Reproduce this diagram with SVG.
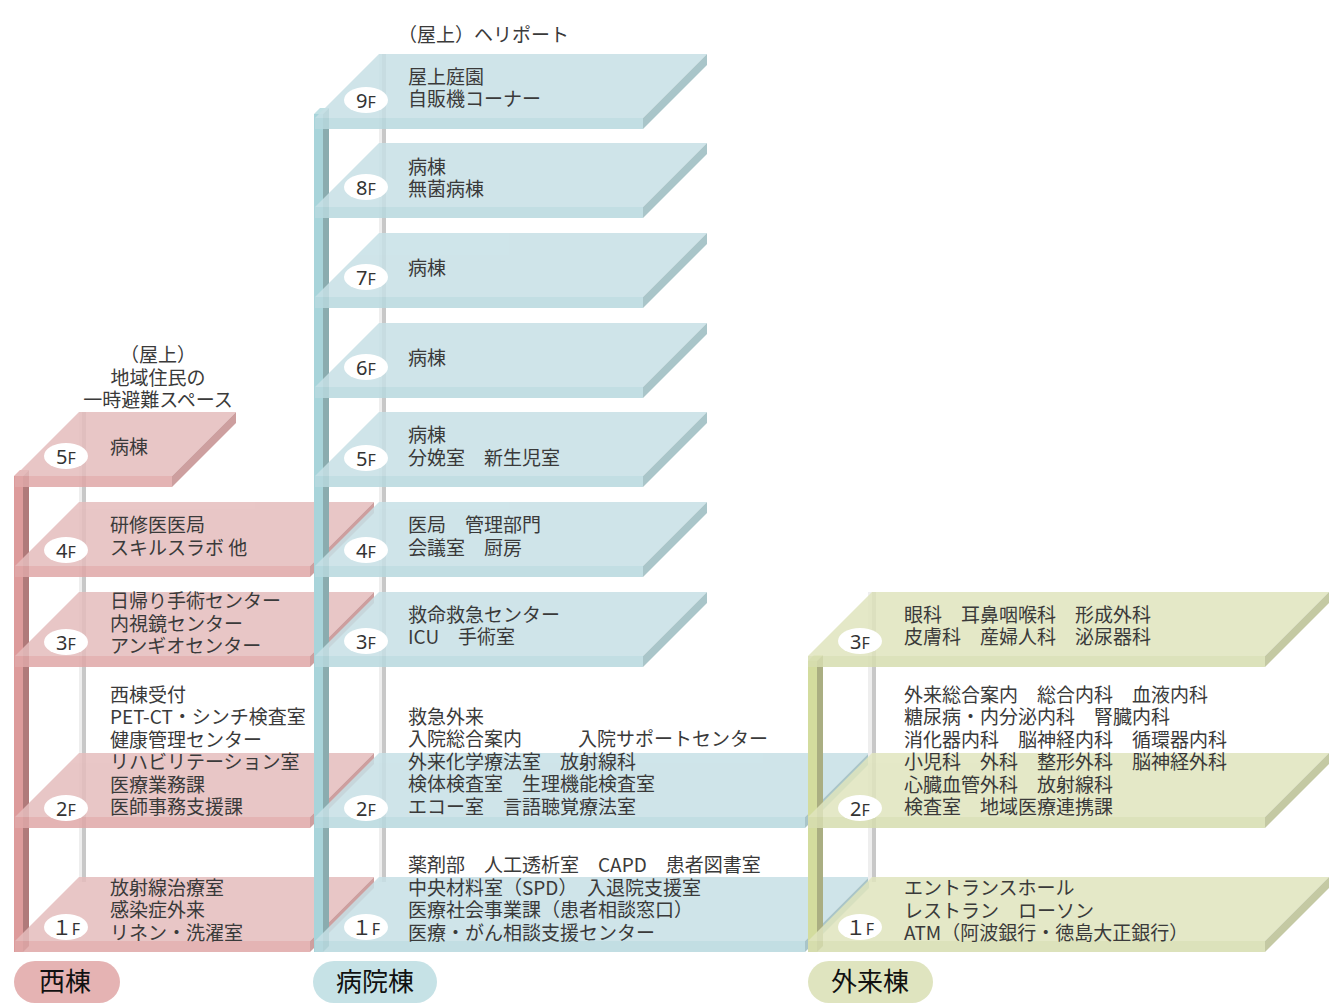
<svg xmlns="http://www.w3.org/2000/svg" width="1344" height="1008" viewBox="0 0 1344 1008">
<style>
.t{font-family:"Noto Sans CJK JP","Liberation Sans",sans-serif;font-size:19px;fill:#3a3a3a}
.c{text-anchor:middle}
.fl{font-family:"Noto Sans","Noto Sans CJK JP",sans-serif;fill:#333;text-anchor:middle}
.fl .n{font-size:20px}
.fl .f{font-size:16px}
.lab{fill:#fff}
.gl{fill:#eeeeee}
.gd{fill:#c8c8c8}
.slab{opacity:.85}
.w .top{fill:#e5bdbd}.w .band{fill:#e0a8a8}.w .side{fill:#c58f8f}
.h .top{fill:#c7e0e6}.h .band{fill:#b8d9df}.h .side{fill:#9bbcc0}
.o .top{fill:#e0e5be}.o .band{fill:#d7deb0}.o .side{fill:#bac093}
.bn{font-family:"Noto Sans CJK JP",sans-serif;font-size:26px;fill:#111;text-anchor:middle}
</style>

<g id="connectors"></g>

<!-- West building -->
<g id="west" class="w">
  <g id="west-poles">
    <rect class="gl" x="79" y="412" width="3" height="470"/>
    <rect class="gd" x="82" y="412" width="4" height="470"/>
    <polygon points="14,476 20,470 29,470 23,476" fill="#e8b4b4"/>
    <rect x="14" y="476" width="9" height="476" fill="#dd9b9b"/>
    <polygon points="23,476 29,470 29,946 23,952" fill="#b07a7a"/>
  </g>
  <text class="t c" x="158" y="362"><tspan x="158">（屋上）</tspan><tspan x="158" dy="22.5">地域住民の</tspan><tspan x="158" dy="22.5">一時避難スペース</tspan></text>
  <g id="west-5F">
    <g class="slab"><polygon class="top" points="15,476 79,412 236,412 172,476"/><rect class="band" x="15" y="476" width="157" height="11"/><polygon class="side" points="172,476 236,412 236,423 172,487"/></g>
    <ellipse class="lab" cx="66" cy="456" rx="22" ry="13"/>
    <text class="fl" x="66" y="464"><tspan class="n">5</tspan><tspan class="f">F</tspan></text>
    <text class="t" x="110" y="454">病棟</text>
  </g>
  <g id="west-4F">
    <g class="slab"><polygon class="top" points="15,566 79,502 374,502 310,566"/><rect class="band" x="15" y="566" width="295" height="11"/><polygon class="side" points="310,566 374,502 374,513 310,577"/></g>
    <ellipse class="lab" cx="66" cy="550" rx="22" ry="13"/>
    <text class="fl" x="66" y="558"><tspan class="n">4</tspan><tspan class="f">F</tspan></text>
    <text class="t" x="110" y="532"><tspan x="110">研修医医局</tspan><tspan x="110" dy="22.5">スキルスラボ 他</tspan></text>
  </g>
  <g id="west-3F">
    <g class="slab"><polygon class="top" points="15,656 79,592 374,592 310,656"/><rect class="band" x="15" y="656" width="295" height="11"/><polygon class="side" points="310,656 374,592 374,603 310,667"/></g>
    <ellipse class="lab" cx="66" cy="642" rx="22" ry="13"/>
    <text class="fl" x="66" y="650"><tspan class="n">3</tspan><tspan class="f">F</tspan></text>
    <text class="t" x="110" y="608"><tspan x="110">日帰り手術センター</tspan><tspan x="110" dy="22.5">内視鏡センター</tspan><tspan x="110" dy="22.5">アンギオセンター</tspan></text>
  </g>
  <g id="west-2F">
    <g class="slab"><polygon class="top" points="15,817 79,753 374,753 310,817"/><rect class="band" x="15" y="817" width="295" height="11"/><polygon class="side" points="310,817 374,753 374,764 310,828"/></g>
    <ellipse class="lab" cx="66" cy="808" rx="22" ry="13"/>
    <text class="fl" x="66" y="816"><tspan class="n">2</tspan><tspan class="f">F</tspan></text>
    <text class="t" x="110" y="701.5"><tspan x="110">西棟受付</tspan><tspan x="110" dy="22.5">PET-CT・シンチ検査室</tspan><tspan x="110" dy="22.5">健康管理センター</tspan><tspan x="110" dy="22.5">リハビリテーション室</tspan><tspan x="110" dy="22.5">医療業務課</tspan><tspan x="110" dy="22.5">医師事務支援課</tspan></text>
  </g>
  <g id="west-1F">
    <g class="slab"><polygon class="top" points="15,941 79,877 374,877 310,941"/><rect class="band" x="15" y="941" width="295" height="11"/><polygon class="side" points="310,941 374,877 374,888 310,952"/></g>
    <ellipse class="lab" cx="66" cy="927" rx="22" ry="13"/>
    <text class="fl" x="66" y="935"><tspan class="n">１</tspan><tspan class="f">F</tspan></text>
    <text class="t" x="110" y="894.5"><tspan x="110">放射線治療室</tspan><tspan x="110" dy="22.5">感染症外来</tspan><tspan x="110" dy="22.5">リネン・洗濯室</tspan></text>
  </g>
  <g id="west-name">
    <rect x="14" y="961" width="106" height="42" rx="21" fill="#e5b3b3"/>
    <text class="bn" x="65" y="991">西棟</text>
  </g>
</g>

<!-- Hospital building -->
<g id="hospital" class="h">
  <g id="hospital-poles">
    <rect class="gl" x="379" y="54" width="3" height="828"/>
    <rect class="gd" x="382" y="54" width="4" height="828"/>
    <polygon points="314,114 320,108 329,108 323,114" fill="#c0e0e4"/>
    <rect x="314" y="114" width="9" height="838" fill="#a8d4da"/>
    <polygon points="323,114 329,108 329,946 323,952" fill="#8aacaf"/>
  </g>
  <text class="t" x="398" y="42">（屋上）ヘリポート</text>
  <g id="hospital-9F">
    <g class="slab"><polygon class="top" points="315,118 379,54 707,54 643,118"/><rect class="band" x="315" y="118" width="328" height="11"/><polygon class="side" points="643,118 707,54 707,65 643,129"/></g>
    <ellipse class="lab" cx="366" cy="100" rx="22" ry="13"/>
    <text class="fl" x="366" y="108"><tspan class="n">9</tspan><tspan class="f">F</tspan></text>
    <text class="t" x="408" y="83.5"><tspan x="408">屋上庭園</tspan><tspan x="408" dy="22.5">自販機コーナー</tspan></text>
  </g>
  <g id="hospital-8F">
    <g class="slab"><polygon class="top" points="315,207 379,143 707,143 643,207"/><rect class="band" x="315" y="207" width="328" height="11"/><polygon class="side" points="643,207 707,143 707,154 643,218"/></g>
    <ellipse class="lab" cx="366" cy="187" rx="22" ry="13"/>
    <text class="fl" x="366" y="195"><tspan class="n">8</tspan><tspan class="f">F</tspan></text>
    <text class="t" x="408" y="173.5"><tspan x="408">病棟</tspan><tspan x="408" dy="22.5">無菌病棟</tspan></text>
  </g>
  <g id="hospital-7F">
    <g class="slab"><polygon class="top" points="315,297 379,233 707,233 643,297"/><rect class="band" x="315" y="297" width="328" height="11"/><polygon class="side" points="643,297 707,233 707,244 643,308"/></g>
    <ellipse class="lab" cx="366" cy="277" rx="22" ry="13"/>
    <text class="fl" x="366" y="285"><tspan class="n">7</tspan><tspan class="f">F</tspan></text>
    <text class="t" x="408" y="275">病棟</text>
  </g>
  <g id="hospital-6F">
    <g class="slab"><polygon class="top" points="315,387 379,323 707,323 643,387"/><rect class="band" x="315" y="387" width="328" height="11"/><polygon class="side" points="643,387 707,323 707,334 643,398"/></g>
    <ellipse class="lab" cx="366" cy="367" rx="22" ry="13"/>
    <text class="fl" x="366" y="375"><tspan class="n">6</tspan><tspan class="f">F</tspan></text>
    <text class="t" x="408" y="365">病棟</text>
  </g>
  <g id="hospital-5F">
    <g class="slab"><polygon class="top" points="315,476 379,412 707,412 643,476"/><rect class="band" x="315" y="476" width="328" height="11"/><polygon class="side" points="643,476 707,412 707,423 643,487"/></g>
    <ellipse class="lab" cx="366" cy="458" rx="22" ry="13"/>
    <text class="fl" x="366" y="466"><tspan class="n">5</tspan><tspan class="f">F</tspan></text>
    <text class="t" x="408" y="442"><tspan x="408">病棟</tspan><tspan x="408" dy="22.5">分娩室　新生児室</tspan></text>
  </g>
  <g id="hospital-4F">
    <g class="slab"><polygon class="top" points="315,566 379,502 707,502 643,566"/><rect class="band" x="315" y="566" width="328" height="11"/><polygon class="side" points="643,566 707,502 707,513 643,577"/></g>
    <ellipse class="lab" cx="366" cy="550" rx="22" ry="13"/>
    <text class="fl" x="366" y="558"><tspan class="n">4</tspan><tspan class="f">F</tspan></text>
    <text class="t" x="408" y="532"><tspan x="408">医局　管理部門</tspan><tspan x="408" dy="22.5">会議室　厨房</tspan></text>
  </g>
  <g id="hospital-3F">
    <g class="slab"><polygon class="top" points="315,656 379,592 707,592 643,656"/><rect class="band" x="315" y="656" width="328" height="11"/><polygon class="side" points="643,656 707,592 707,603 643,667"/></g>
    <ellipse class="lab" cx="366" cy="641" rx="22" ry="13"/>
    <text class="fl" x="366" y="649"><tspan class="n">3</tspan><tspan class="f">F</tspan></text>
    <text class="t" x="408" y="621.5"><tspan x="408">救命救急センター</tspan><tspan x="408" dy="22.5">ICU　手術室</tspan></text>
  </g>
  <g id="hospital-2F">
    <g class="slab"><polygon class="top" points="315,817 379,753 869,753 805,817"/><rect class="band" x="315" y="817" width="490" height="11"/><polygon class="side" points="805,817 869,753 869,764 805,828"/></g>
    <ellipse class="lab" cx="366" cy="808" rx="22" ry="13"/>
    <text class="fl" x="366" y="816"><tspan class="n">2</tspan><tspan class="f">F</tspan></text>
    <text class="t" x="408" y="723.5"><tspan x="408">救急外来</tspan><tspan x="408" dy="22.5">入院総合案内</tspan><tspan x="578">入院サポートセンター</tspan><tspan x="408" dy="22.5">外来化学療法室　放射線科</tspan><tspan x="408" dy="22.5">検体検査室　生理機能検査室</tspan><tspan x="408" dy="22.5">エコー室　言語聴覚療法室</tspan></text>
  </g>
  <g id="hospital-1F">
    <g class="slab"><polygon class="top" points="315,941 379,877 869,877 805,941"/><rect class="band" x="315" y="941" width="490" height="11"/><polygon class="side" points="805,941 869,877 869,888 805,952"/></g>
    <ellipse class="lab" cx="366" cy="927" rx="22" ry="13"/>
    <text class="fl" x="366" y="935"><tspan class="n">１</tspan><tspan class="f">F</tspan></text>
    <text class="t" x="408" y="872"><tspan x="408">薬剤部　人工透析室　CAPD　患者図書室</tspan><tspan x="408" dy="22.5">中央材料室（SPD）　入退院支援室</tspan><tspan x="408" dy="22.5">医療社会事業課（患者相談窓口）</tspan><tspan x="408" dy="22.5">医療・がん相談支援センター</tspan></text>
  </g>
  <g id="hospital-name">
    <rect x="313" y="961" width="124" height="42" rx="21" fill="#c6e2e6"/>
    <text class="bn" x="375" y="991">病院棟</text>
  </g>
</g>

<!-- Outpatient building -->
<g id="outpatient" class="o">
  <g id="outpatient-poles">
    <rect class="gl" x="868" y="592" width="4" height="290"/>
    <rect class="gd" x="872" y="592" width="4" height="290"/>
    <polygon points="808,661 814,655 823,655 817,661" fill="#e0e6b8"/>
    <rect x="808" y="661" width="9" height="291" fill="#d3dc9e"/>
    <polygon points="817,661 823,655 823,946 817,952" fill="#aaae82"/>
  </g>
  <g id="outpatient-3F">
    <g class="slab"><polygon class="top" points="808,656 872,592 1329,592 1265,656"/><rect class="band" x="808" y="656" width="457" height="11"/><polygon class="side" points="1265,656 1329,592 1329,603 1265,667"/></g>
    <ellipse class="lab" cx="860" cy="641" rx="22" ry="13"/>
    <text class="fl" x="860" y="649"><tspan class="n">3</tspan><tspan class="f">F</tspan></text>
    <text class="t" x="904" y="621.5"><tspan x="904">眼科　耳鼻咽喉科　形成外科</tspan><tspan x="904" dy="22.5">皮膚科　産婦人科　泌尿器科</tspan></text>
  </g>
  <g id="outpatient-2F">
    <g class="slab"><polygon class="top" points="808,817 872,753 1329,753 1265,817"/><rect class="band" x="808" y="817" width="457" height="11"/><polygon class="side" points="1265,817 1329,753 1329,764 1265,828"/></g>
    <ellipse class="lab" cx="860" cy="808" rx="22" ry="13"/>
    <text class="fl" x="860" y="816"><tspan class="n">2</tspan><tspan class="f">F</tspan></text>
    <text class="t" x="904" y="701.5"><tspan x="904">外来総合案内　総合内科　血液内科</tspan><tspan x="904" dy="22.5">糖尿病・内分泌内科　腎臓内科</tspan><tspan x="904" dy="22.5">消化器内科　脳神経内科　循環器内科</tspan><tspan x="904" dy="22.5">小児科　外科　整形外科　脳神経外科</tspan><tspan x="904" dy="22.5">心臓血管外科　放射線科</tspan><tspan x="904" dy="22.5">検査室　地域医療連携課</tspan></text>
  </g>
  <g id="outpatient-1F">
    <g class="slab"><polygon class="top" points="808,941 872,877 1329,877 1265,941"/><rect class="band" x="808" y="941" width="457" height="11"/><polygon class="side" points="1265,941 1329,877 1329,888 1265,952"/></g>
    <ellipse class="lab" cx="860" cy="927" rx="22" ry="13"/>
    <text class="fl" x="860" y="935"><tspan class="n">１</tspan><tspan class="f">F</tspan></text>
    <text class="t" x="904" y="895"><tspan x="904">エントランスホール</tspan><tspan x="904" dy="22.5">レストラン　ローソン</tspan><tspan x="904" dy="22.5">ATM（阿波銀行・徳島大正銀行）</tspan></text>
  </g>
  <g id="outpatient-name">
    <rect x="808" y="961" width="125" height="42" rx="21" fill="#dfe4bf"/>
    <text class="bn" x="870" y="991">外来棟</text>
  </g>
</g>
</svg>
